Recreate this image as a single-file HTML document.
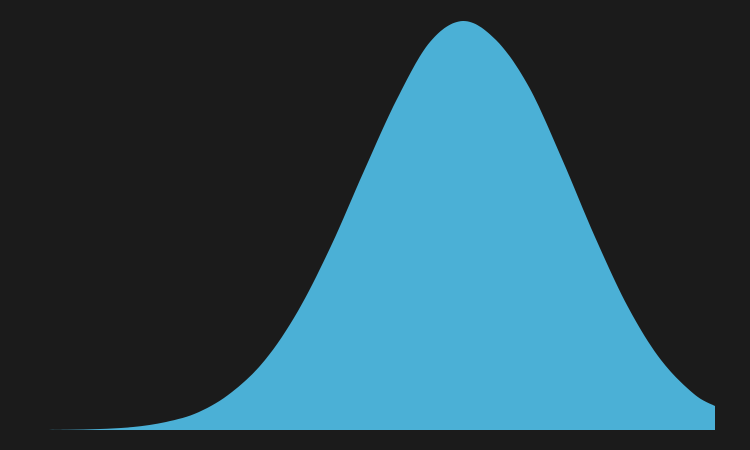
<!DOCTYPE html>
<html>
<head>
<meta charset="utf-8">
<style>
  html, body { margin: 0; padding: 0; background: #1b1b1b; }
  svg { display: block; }
</style>
</head>
<body>
<svg id="chart" width="750" height="450" viewBox="0 0 750 450">
  <rect x="0" y="0" width="750" height="450" fill="#1b1b1b"></rect>
  <g id="plot"></g>
</svg>
<script>
// data (x in data units, y = density-like height)
const xValues = [0, 32, 65, 98, 131, 164, 197, 230, 263, 296, 329, 362, 395, 428, 461, 494, 527, 560, 593, 626, 659, 680];
const yValues = [0, 0.3, 1, 3, 8, 18, 38, 70, 119, 184, 259, 331, 388, 409, 390, 343, 271, 193, 123, 70, 36, 24];

const xMin = 0, xMax = 680;
const yMin = 0, yMax = 409;
const plotLeft = 35, plotRight = 715, plotTop = 21, plotBottom = 430;

function xScale(v) { return plotLeft + (v - xMin) / (xMax - xMin) * (plotRight - plotLeft); }
function yScale(v) { return plotBottom - (v - yMin) / (yMax - yMin) * (plotBottom - plotTop); }

const pts = xValues.map((x, i) => [xScale(x), yScale(yValues[i])]);
let d = `M${pts[0][0]},${plotBottom} L${pts[0][0]},${pts[0][1]}`;
for (let i = 0; i < pts.length - 1; i++) {
  const p0 = pts[Math.max(i - 1, 0)], p1 = pts[i], p2 = pts[i + 1], p3 = pts[Math.min(i + 2, pts.length - 1)];
  const c1x = p1[0] + (p2[0] - p0[0]) / 6, c1y = p1[1] + (p2[1] - p0[1]) / 6;
  const c2x = p2[0] - (p3[0] - p1[0]) / 6, c2y = p2[1] - (p3[1] - p1[1]) / 6;
  d += ` C${c1x},${c1y} ${c2x},${c2y} ${p2[0]},${p2[1]}`;
}
d += ` L${pts[pts.length - 1][0]},${plotBottom} Z`;

const path = document.createElementNS('http://www.w3.org/2000/svg', 'path');
path.setAttribute('d', d);
path.setAttribute('fill', '#4bb0d6');


document.getElementById('plot').appendChild(path);
</script>
</body>
</html>
